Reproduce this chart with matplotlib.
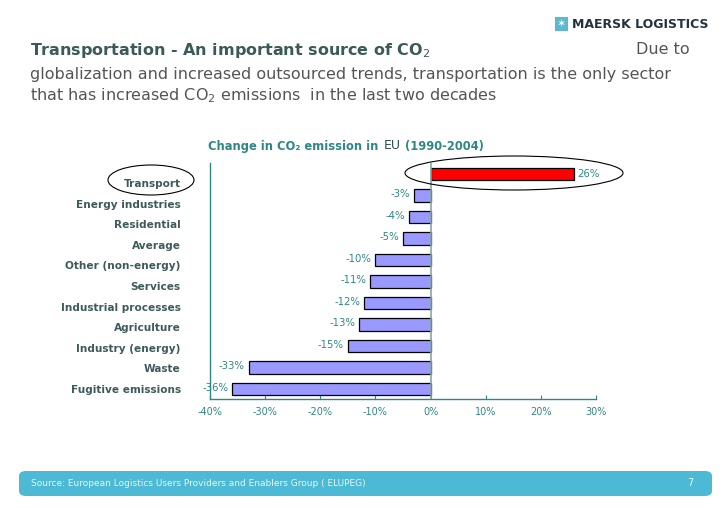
import matplotlib
matplotlib.use("Agg")
import matplotlib.pyplot as plt
from matplotlib.patches import Ellipse, FancyBboxPatch, Rectangle

categories = ["Transport", "Energy industries", "Residential", "Average",
              "Other (non-energy)", "Services", "Industrial processes",
              "Agriculture", "Industry (energy)", "Waste", "Fugitive emissions"]
values = [26, -3, -4, -5, -10, -11, -12, -13, -15, -33, -36]
xticks = [-40, -30, -20, -10, 0, 10, 20, 30]

W, H = 728, 508
fig = plt.figure(figsize=(W / 100, H / 100), dpi=100)
fig.patch.set_facecolor("white")

def fx(x):
    return x / W

def fy(y):
    return 1 - y / H

teal = "#2E8787"
label_col = "#3E5A5A"
head_col = "#3B5A58"
body_col = "#555555"

ypos = list(range(len(categories)))

# Category label axis (labels spaced slightly differently from bars, as in reference)
lax = fig.add_axes([fx(210), fy(399.3), fx(596) - fx(210), fy(172.7) - fy(399.3)])
lax.set_ylim(len(categories) - 0.5, -0.5)
lax.set_yticks(ypos)
lax.set_yticklabels(categories, fontsize=7.6, fontweight="bold", color=label_col)
lax.tick_params(axis="y", length=0, pad=21)
lax.set_xticks([])
for s in lax.spines.values():
    s.set_visible(False)
lax.patch.set_alpha(0)

# Main axes
ax = fig.add_axes([fx(210), fy(399), fx(596) - fx(210), fy(163) - fy(399)])
ax.patch.set_alpha(0)
colors = ["#FF0000"] + ["#9999FF"] * (len(categories) - 1)
ax.barh(ypos, values, height=0.58, color=colors, edgecolor="black", linewidth=0.9, zorder=3)
ax.set_ylim(10.47, -0.51)
ax.set_xlim(-40, 30)
ax.axvline(0, color="#7FA8A8", linewidth=1.2, zorder=4)
ax.set_xticks(xticks)
ax.set_xticklabels([f"{t}%" for t in xticks], fontsize=7, color=teal)
ax.set_yticks([])
ax.tick_params(axis="x", length=3, direction="in", color=teal, pad=6)
for s in ["top", "right"]:
    ax.spines[s].set_visible(False)
for s in ["left", "bottom"]:
    ax.spines[s].set_color(teal)
    ax.spines[s].set_linewidth(1.0)

for y, v in zip(ypos, values):
    if v >= 0:
        ax.text(v + 0.6, y, f"{v}%", va="center", ha="left", fontsize=7.3, color=teal)
    else:
        ax.text(v - 0.7, y - 0.06, f"-{abs(v)}%", va="center", ha="right", fontsize=7.3, color=teal)

# Chart title
fig.text(fx(208), fy(147), "Change in CO\u2082 emission in", fontsize=8.3, fontweight="bold",
         color=teal, va="center", ha="left")
fig.text(fx(384), fy(146), "EU", fontsize=9, color="#2F4F4F", va="center", ha="left")
fig.text(fx(405), fy(147), "(1990-2004)", fontsize=8.3, fontweight="bold",
         color=teal, va="center", ha="left")

# Ellipses
fig.patches.append(Ellipse((fx(151), fy(180)), fx(86), 30 / H, fill=False,
                           edgecolor="black", linewidth=0.8, transform=fig.transFigure))
fig.patches.append(Ellipse((fx(514), fy(173)), fx(218), 34 / H, fill=False,
                           edgecolor="black", linewidth=0.8, transform=fig.transFigure))

# Header text
fig.text(fx(30), fy(50), "Transportation - An important source of CO$_2$", fontsize=11.5,
         fontweight="bold", color=head_col, va="center", ha="left")
fig.text(fx(690), fy(50), "Due to", fontsize=11.5, color=body_col, va="center", ha="right")
fig.text(fx(30), fy(75), "globalization and increased outsourced trends, transportation is the only sector",
         fontsize=11.5, color=body_col, va="center", ha="left")
fig.text(fx(30), fy(96), "that has increased CO$_2$ emissions  in the last two decades",
         fontsize=11.5, color=body_col, va="center", ha="left")

# Logo
fig.patches.append(Rectangle((fx(555), fy(31)), fx(13), 14 / H, facecolor="#5BB8D0",
                             edgecolor="none", transform=fig.transFigure))
fig.text(fx(561.5), fy(24), "\u2736", fontsize=8, color="white", ha="center", va="center")
fig.text(fx(572), fy(24), "MAERSK LOGISTICS", fontsize=9, fontweight="bold",
         color="#24323F", ha="left", va="center")

# Footer
fig.patches.append(FancyBboxPatch((fx(19), fy(496)), fx(693), 25 / H,
                                  boxstyle="round,pad=0,rounding_size=0.01",
                                  facecolor="#4CB9D5", edgecolor="none",
                                  transform=fig.transFigure))
fig.text(fx(31), fy(483), "Source: European Logistics Users Providers and Enablers Group ( ELUPEG)",
         fontsize=6.5, color="#E8F6FA", ha="left", va="center")
fig.text(fx(693), fy(483), "7", fontsize=7, color="#E8F6FA", ha="right", va="center")

fig.savefig("out.png", dpi=100, facecolor="white")
